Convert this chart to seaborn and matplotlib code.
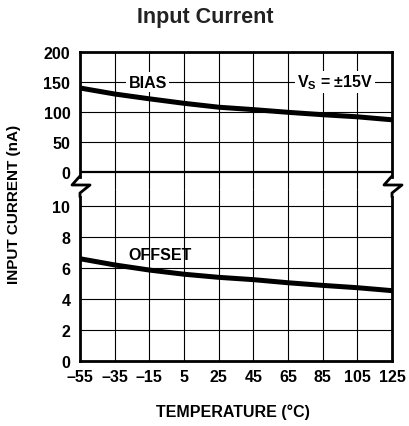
import matplotlib
matplotlib.use("Agg")
import matplotlib.pyplot as plt
import seaborn as sns
import pandas as pd
from matplotlib.lines import Line2D

temps = [-55, -35, -15, 5, 25, 45, 65, 85, 105, 125]
bias_na = [140, 130, 122, 114.5, 108, 104, 99.5, 95.5, 92, 87]
offset_na = [6.6, 6.2, 5.87, 5.6, 5.4, 5.25, 5.05, 4.88, 4.73, 4.54]
top_ticks = [0, 50, 100, 150, 200]
bot_ticks = [0, 2, 4, 6, 8, 10]

sns.set_theme(style="white")
FONT = ["Liberation Sans", "DejaVu Sans"]
plt.rcParams["font.family"] = FONT
plt.rcParams["text.color"] = "black"
plt.rcParams["xtick.color"] = "black"
plt.rcParams["ytick.color"] = "black"

W, H = 410, 427
fig = plt.figure(figsize=(W / 100, H / 100), dpi=100)

def fx(p):
    return p / W

def fy(p):
    return 1 - p / H

x0, x1 = 80, 392
ymid = 190
ax_top = fig.add_axes([fx(x0), fy(ymid), fx(x1 - x0), fy(53) - fy(ymid)])
ax_bot = fig.add_axes([fx(x0), fy(362), fx(x1 - x0), fy(ymid) - fy(362)])

df = pd.DataFrame({"temp": temps, "bias": bias_na, "offset": offset_na})
sns.lineplot(data=df, x="temp", y="bias", ax=ax_top, color="black", lw=3.6)
sns.lineplot(data=df, x="temp", y="offset", ax=ax_bot, color="black", lw=3.6)

ax_top.set_ylim(-28.3, 200)
ax_bot.set_ylim(0, 11.1)
for ax in (ax_top, ax_bot):
    ax.set_xlim(-55, 125)
    ax.set_xlabel("")
    ax.set_ylabel("")
    for t in temps[1:-1]:
        ax.axvline(t, color="black", lw=0.8, zorder=0)
    for s in ax.spines.values():
        s.set_color("black")
        s.set_linewidth(2.0)
    ax.tick_params(axis="y", length=0, pad=7, labelsize=11.5)
    ax.tick_params(axis="x", length=0, pad=6, labelsize=11.5)

for v in top_ticks[1:-1]:
    ax_top.axhline(v, color="black", lw=0.8, zorder=0)
ax_top.axhline(0, color="black", lw=1.6, zorder=0)
for v in bot_ticks[1:]:
    ax_bot.axhline(v, color="black", lw=0.8, zorder=0)

ax_top.spines["bottom"].set_visible(False)
ax_top.spines["left"].set_bounds(-8, 200)
ax_top.spines["right"].set_bounds(-8, 200)
ax_bot.spines["top"].set_visible(False)
ax_bot.spines["left"].set_bounds(0, 10.6)
ax_bot.spines["right"].set_bounds(0, 10.6)

ax_top.set_yticks(top_ticks)
ax_top.set_yticklabels([str(v) for v in top_ticks], fontweight="bold")
ax_top.set_xticks([])
ax_bot.set_yticks(bot_ticks)
ax_bot.set_yticklabels([str(v) for v in bot_ticks], fontweight="bold")
ax_bot.set_xticks(temps)
ax_bot.set_xticklabels([str(t).replace("-", "\u2013") for t in temps], fontweight="bold")

# break marks
for xb in (x0, x1):
    xs = [xb, xb - 8, xb + 10, xb, xb]
    ys = [177, 186, 186, 194, 198]
    fig.add_artist(Line2D([fx(v) for v in xs], [fy(v) for v in ys],
                          color="black", lw=2.0, transform=fig.transFigure))

box = dict(facecolor="white", edgecolor="none", pad=1.5)
ax_top.text(-16, 150, "BIAS", ha="center", va="center",
            fontsize=11.5, fontweight="bold", bbox=box)
ax_top.text(92, 150, "V$_\\mathregular{S}$ = \u00b115V", ha="center", va="center",
            fontsize=11.5, fontweight="bold", bbox=box)
ax_bot.text(-9, 6.9, "OFFSET", ha="center", va="center",
            fontsize=11.5, fontweight="bold")

fig.text(0.5, fy(17), "Input Current", ha="center", va="center",
         fontsize=15.5, fontweight="bold", color="#222222")
fig.text(fx(14), fy(204), "INPUT CURRENT (nA)", rotation=90, ha="center",
         va="center", fontsize=11, fontweight="bold")
fig.text(fx(233), fy(412), "TEMPERATURE (\u00b0C)", ha="center", va="center",
         fontsize=11.5, fontweight="bold")

fig.savefig("out.png", dpi=100)
